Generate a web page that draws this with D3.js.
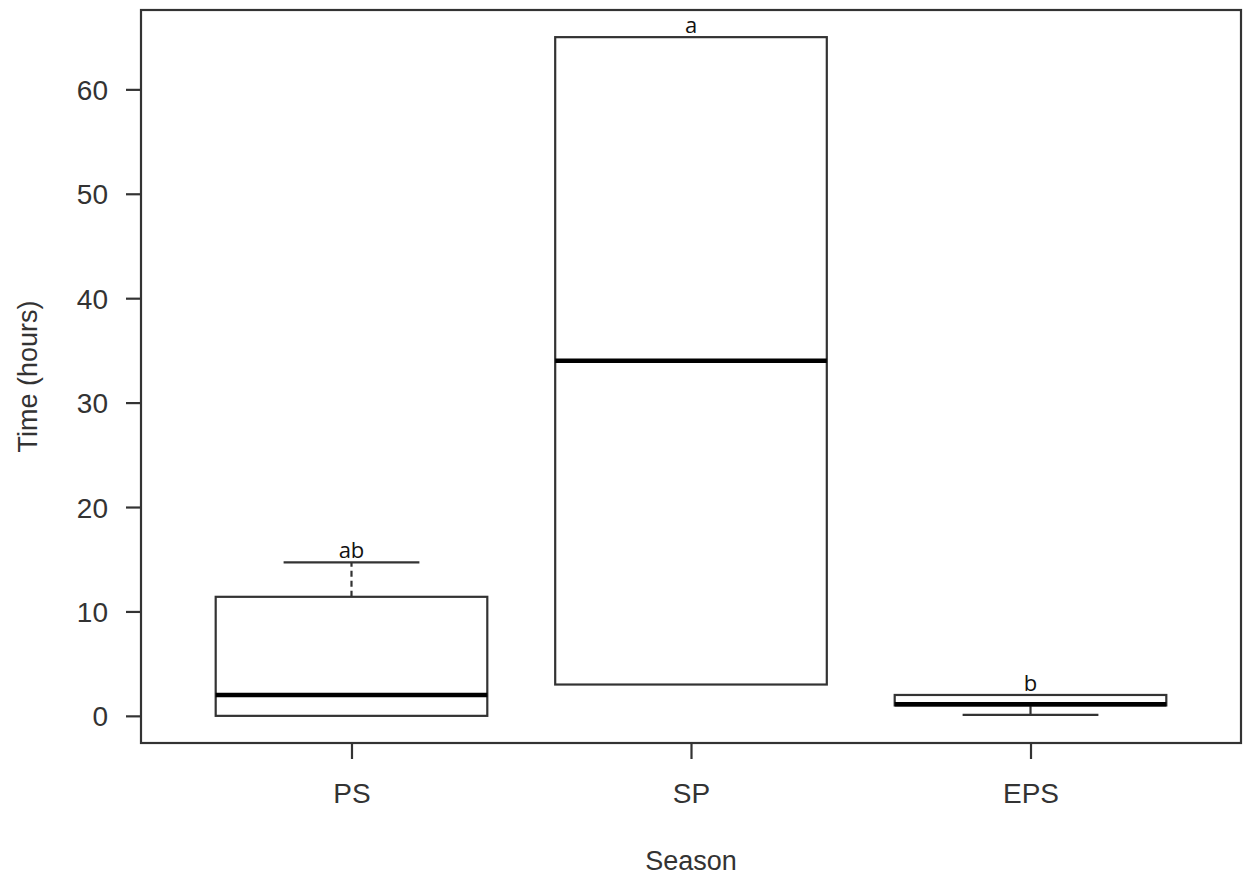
<!DOCTYPE html>
<html>
<head>
<meta charset="utf-8">
<script src="https://cdn.jsdelivr.net/npm/d3@7"></script>
<style>
    body { margin: 0; background: #fff; }
    svg { display: block; }
</style>
</head>
<body>
<svg id="chart"></svg>
<script>
(function() {

    // Box summaries.
    const seasons = ['PS', 'SP', 'EPS'];
    const whiskerLow = [0, 3, 0.1];
    const q1 = [0, 3, 1];
    const median = [2, 34, 1.1];
    const q3 = [11.4, 65, 2];
    const whiskerHigh = [14.7, 65, 2];
    const letters = ['ab', 'a', 'b'];
    const yTicks = [0, 10, 20, 30, 40, 50, 60];

    const w = 1243;
    const h = 879;
    const left = 141, right = 1241, top = 10, bottom = 743;
    const lineColor = '#333';
    const textColor = '#333';

    const boxes = seasons.map((s, i) => ({
        season: s, pos: i + 1,
        lo: whiskerLow[i], q1: q1[i], med: median[i], q3: q3[i], hi: whiskerHigh[i],
        letter: letters[i]
    }));

    // Scale X (R style: 0.5..3.5 plus 4%)
    const scaleX = d3.scaleLinear().domain([0.38, 3.62]).range([left, right]);

    // Scale Y
    const scaleY = d3.scaleLinear().domain([-2.6, 67.6]).range([bottom, top]);

    const svg = d3.select('#chart')
        .attr('width', w)
        .attr('height', h);

    const boxW = scaleX(1.4) - scaleX(1);
    const capW = scaleX(1.2) - scaleX(1);

    const g = svg.append('g');

    const box = g.selectAll('g.box')
        .data(boxes)
        .join('g')
        .attr('class', 'box');

    // Whiskers
    box.filter(d => d.hi > d.q3).append('line')
        .attr('x1', d => scaleX(d.pos)).attr('x2', d => scaleX(d.pos))
        .attr('y1', d => scaleY(d.q3)).attr('y2', d => scaleY(d.hi))
        .attr('stroke', lineColor).attr('stroke-width', 2.2)
        .attr('stroke-dasharray', '6,4');
    box.filter(d => d.lo < d.q1).append('line')
        .attr('x1', d => scaleX(d.pos)).attr('x2', d => scaleX(d.pos))
        .attr('y1', d => scaleY(d.q1)).attr('y2', d => scaleY(d.lo))
        .attr('stroke', lineColor).attr('stroke-width', 2.2)
        .attr('stroke-dasharray', '9,4');

    // Caps
    box.filter(d => d.hi > d.q3).append('line')
        .attr('x1', d => scaleX(d.pos) - capW).attr('x2', d => scaleX(d.pos) + capW)
        .attr('y1', d => scaleY(d.hi)).attr('y2', d => scaleY(d.hi))
        .attr('stroke', lineColor).attr('stroke-width', 2.2);
    box.filter(d => d.lo < d.q1).append('line')
        .attr('x1', d => scaleX(d.pos) - capW).attr('x2', d => scaleX(d.pos) + capW)
        .attr('y1', d => scaleY(d.lo)).attr('y2', d => scaleY(d.lo))
        .attr('stroke', lineColor).attr('stroke-width', 2.2);

    // Boxes
    box.append('rect')
        .attr('x', d => scaleX(d.pos) - boxW)
        .attr('width', 2 * boxW)
        .attr('y', d => scaleY(d.q3))
        .attr('height', d => scaleY(d.q1) - scaleY(d.q3))
        .attr('fill', '#fff')
        .attr('stroke', lineColor)
        .attr('stroke-width', 2.2);

    // Medians
    box.append('line')
        .attr('x1', d => scaleX(d.pos) - boxW).attr('x2', d => scaleX(d.pos) + boxW)
        .attr('y1', d => scaleY(d.med)).attr('y2', d => scaleY(d.med))
        .attr('stroke', '#000').attr('stroke-width', 4.5);

    // Letters
    box.append('text')
        .attr('x', d => scaleX(d.pos))
        .attr('y', d => scaleY(d.hi) - 4)
        .attr('text-anchor', 'middle')
        .style('font-family', '"Open Sans", Lato, sans-serif')
        .style('font-size', '22px')
        .attr('fill', '#111')
        .text(d => d.letter);

    // Frame
    svg.append('rect')
        .attr('x', left).attr('y', top)
        .attr('width', right - left).attr('height', bottom - top)
        .attr('fill', 'none')
        .attr('stroke', lineColor)
        .attr('stroke-width', 2.2);

    // Axes
    const yAxis = d3.axisLeft(scaleY).tickValues(yTicks).tickSize(15).tickPadding(18);
    const xAxis = d3.axisBottom(scaleX).tickValues([1, 2, 3])
        .tickFormat(d => seasons[d - 1]).tickSize(16).tickPadding(24);

    const gy = svg.append('g')
        .attr('id', 'y-axis')
        .attr('transform', `translate(${left}, 0)`)
        .call(yAxis);
    const gx = svg.append('g')
        .attr('id', 'x-axis')
        .attr('transform', `translate(0, ${bottom})`)
        .call(xAxis);

    [gy, gx].forEach(a => {
        a.select('.domain').remove();
        a.selectAll('.tick line').attr('stroke', lineColor).attr('stroke-width', 2.2);
        a.selectAll('.tick text')
            .attr('fill', textColor)
            .style('font-family', '"Liberation Sans", Arial, sans-serif')
            .style('font-size', '28px');
    });
    gy.selectAll('.tick text').attr('dy', '0.36em');

    // Axis titles
    svg.append('text')
        .attr('x', (left + right) / 2)
        .attr('y', 870)
        .attr('text-anchor', 'middle')
        .attr('fill', textColor)
        .style('font-family', '"Liberation Sans", Arial, sans-serif')
        .style('font-size', '27px')
        .text('Season');

    svg.append('text')
        .attr('transform', `translate(37, ${(top + bottom) / 2}) rotate(-90)`)
        .attr('text-anchor', 'middle')
        .attr('fill', textColor)
        .style('font-family', '"Liberation Sans", Arial, sans-serif')
        .style('font-size', '27px')
        .text('Time (hours)');

})();
</script>
</body>
</html>
